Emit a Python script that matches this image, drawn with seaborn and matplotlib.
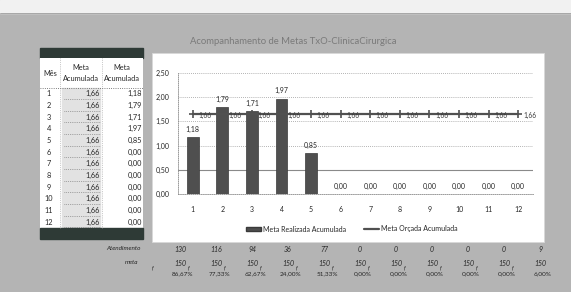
import matplotlib
matplotlib.use('Agg')
import matplotlib.pyplot as plt
import seaborn as sns
import pandas as pd
from matplotlib.patches import Rectangle, Patch
from matplotlib.lines import Line2D

# ---------------- data ----------------
meses = list(range(1, 13))
meta_realizada = [1.18, 1.79, 1.71, 1.97, 0.85, 0.00, 0.00, 0.00, 0.00, 0.00, 0.00, 0.00]
meta_orcada = [1.66, 1.66, 1.66, 1.66, 1.66, 1.66, 1.66, 1.66, 1.66, 1.66, 1.66, 1.66]
y_ticks = [0.0, 0.5, 1.0, 1.5, 2.0, 2.5]
atendimento = [130, 116, 94, 36, 77, 0, 0, 0, 0, 0, 9]
meta_mes = [150, 150, 150, 150, 150, 150, 150, 150, 150, 150, 150]
percentual = ["86,67%", "77,33%", "62,67%", "24,00%", "51,33%", "0,00%",
              "0,00%", "0,00%", "0,00%", "0,00%", "6,00%"]
titulo = "Acompanhamento de Metas TxO-ClinicaCirurgica"

def br(v):
    return f"{v:.2f}".replace('.', ',')

df = pd.DataFrame({"Mes": meses, "Realizada": meta_realizada, "Orcada": meta_orcada})

sns.set_theme(style='white')
plt.rcParams['font.family'] = ['Lato', 'DejaVu Sans']

TXT = '#262626'
W, H = 571, 292
fig = plt.figure(figsize=(W / 100, H / 100), dpi=100)

# background canvas in pixel coords
bg = fig.add_axes([0, 0, 1, 1])
bg.set_xlim(0, W)
bg.set_ylim(H, 0)
bg.axis('off')
bg.add_patch(Rectangle((0, 0), W, H, color='#b4b4b4', zorder=0))
bg.add_patch(Rectangle((0, 0), W, 13, color='#f1f1f1', zorder=0))
bg.plot([0, W], [13, 13], color='#9a9a9a', lw=0.6)
bg.add_patch(Rectangle((152, 53), 392, 189, facecolor='white', edgecolor='#d8d8d8', lw=0.6, zorder=1))

bg.text(293, 42, titulo, ha='center', va='center', fontsize=6.8, color='#7a7a7a')

# ---- left table ----
tx0, tx1 = 40, 143
c1, c2 = 60, 102
bg.add_patch(Rectangle((tx0, 48), tx1 - tx0, 10, color='#2e3a36', zorder=2))
bg.add_patch(Rectangle((tx0, 58), tx1 - tx0, 170, facecolor='white', edgecolor='none', zorder=2))
row_top = 88
rh = 11.67
bg.add_patch(Rectangle((62, row_top), c2 - 62 - 2, rh * 12, color='#e2e2e2', zorder=2))
bg.add_patch(Rectangle((tx0, row_top + rh * 12), tx1 - tx0, 11, color='#2e3a36', zorder=2))
for xv in (c1, c2):
    bg.plot([xv, xv], [58, row_top + rh * 12], color='#9a9a9a', lw=0.5, ls=':', zorder=3)
bg.plot([tx0, tx1], [row_top, row_top], color='#555', lw=0.6, ls=':', zorder=3)
bg.text(50, 73, "Mês", ha='center', va='center', fontsize=5.3, color=TXT, zorder=4)
bg.text(81, 73, "Meta\nAcumulada", ha='center', va='center', fontsize=5.3, color=TXT, linespacing=1.6, zorder=4)
bg.text(122, 73, "Meta\nAcumulada", ha='center', va='center', fontsize=5.3, color=TXT, linespacing=1.6, zorder=4)
for i, m in enumerate(meses):
    yc = row_top + rh * (i + 0.5)
    bg.text(49, yc, str(m), ha='center', va='center', fontsize=5.3, color=TXT, zorder=4)
    bg.text(100, yc, br(meta_orcada[i]), ha='right', va='center', fontsize=5.3, color=TXT, zorder=4)
    bg.text(142, yc, br(meta_realizada[i]), ha='right', va='center', fontsize=5.3, color=TXT, zorder=4)
    bg.plot([64, 100], [yc + 5, yc + 5], color='#666', lw=0.5, ls=':', zorder=3)

# ---- bottom rows ----
bg.text(141, 249, "Atendimento", ha='right', va='center', fontsize=4.6, color=TXT, style='italic')
bg.text(138, 263, "meta", ha='right', va='center', fontsize=4.6, color=TXT, style='italic')
for i in range(len(atendimento)):
    xc = 180 + 36 * i
    bg.text(xc, 249, str(atendimento[i]), ha='center', va='center', fontsize=5, color=TXT, style='italic')
    bg.text(xc, 263, str(meta_mes[i]), ha='center', va='center', fontsize=5, color=TXT, style='italic')
    bg.text(xc + 3, 274, percentual[i], ha='center', va='center', fontsize=4.6, color=TXT)
    bg.text(xc - 27, 268, "f", ha='center', va='center', fontsize=4, color=TXT, style='italic')

# ---------------- chart ----------------
ax = fig.add_axes([178 / W, 1 - 194 / H, (533 - 178) / W, (194 - 73) / H])
ax.set_facecolor('none')
for yv in y_ticks[1:]:
    if yv == 0.5:
        ax.axhline(yv, color='#8a8a8a', lw=0.8, zorder=0)
    else:
        ax.axhline(yv, color='#9a9a9a', lw=0.6, ls=(0, (1, 1.5)), zorder=0)

sns.barplot(data=df, x="Mes", y="Realizada", native_scale=True, width=0.4,
            color='#4f4f4f', saturation=1, ax=ax, zorder=2, edgecolor='#3a3a3a', linewidth=0.5)
ax.bar_label(ax.containers[0], labels=[br(v) for v in meta_realizada],
             padding=3, fontsize=5, color=TXT)

sns.lineplot(data=df, x="Mes", y="Orcada", color='#505050', lw=1.6, marker='+',
             markersize=6, markeredgewidth=1.2, markeredgecolor='#505050',
             ax=ax, zorder=3, legend=False)
for m, v in zip(meses, meta_orcada):
    ax.annotate(br(v), (m, v), xytext=(4, -1.5), textcoords='offset points',
                ha='left', va='center', fontsize=4.8, color='#3a3a3a', zorder=4)

ax.set_xlim(0.5, 12.5)
ax.set_ylim(0, 2.5)
ax.set_yticks(y_ticks)
ax.set_yticklabels([br(v) for v in y_ticks])
ax.set_xticks(meses)
ax.set_xticklabels([str(m) for m in meses])
ax.set_xlabel("")
ax.set_ylabel("")
ax.tick_params(axis='both', labelsize=5, colors=TXT, length=2, width=0.5, pad=4)
ax.tick_params(axis='x', pad=7)
for s in ('top', 'right'):
    ax.spines[s].set_visible(False)
for s in ('left', 'bottom'):
    ax.spines[s].set_color('#8a8a8a')
    ax.spines[s].set_linewidth(0.6)
    ax.spines[s].set_linestyle((0, (1, 1.5)))

handles = [Patch(facecolor='#4f4f4f', edgecolor='#3a3a3a', label='Meta Realizada Acumulada'),
           Line2D([0], [0], color='#505050', lw=1.6, label='Meta Orçada Acumulada')]
fig.legend(handles=handles, loc='center', bbox_to_anchor=(352 / W, 1 - 229 / H), ncol=2,
           frameon=False, fontsize=5, handlelength=2.2, handleheight=0.6, columnspacing=2.5,
           handletextpad=0.3, labelcolor=TXT)

fig.savefig("out.png", dpi=100)
